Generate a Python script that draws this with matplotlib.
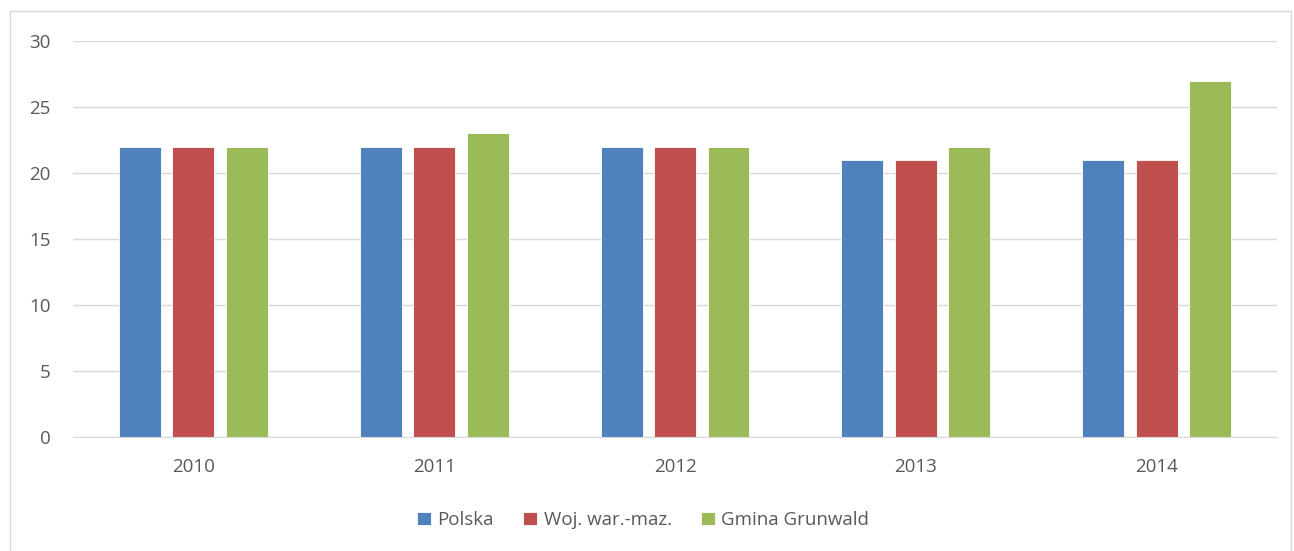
import numpy as np
import matplotlib.pyplot as plt
from matplotlib.patches import Rectangle

years = ["2010", "2011", "2012", "2013", "2014"]
polska = [22, 22, 22, 21, 21]
woj = [22, 22, 22, 21, 21]
gmina = [22, 23, 22, 22, 27]
series_names = ["Polska", "Woj. war.-maz.", "Gmina Grunwald"]
colors = ["#4F81BD", "#C0504D", "#9BBB59"]

plt.rcParams['font.family'] = ['Open Sans', 'DejaVu Sans']

fig = plt.figure(figsize=(12.94, 5.51), dpi=100)
ax = fig.add_axes([0.0564, 0.2069, 0.9305, 0.7187])

x = np.arange(len(years))
width = 0.174
step = 0.222
for i, (vals, name, c) in enumerate(zip([polska, woj, gmina], series_names, colors)):
    ax.bar(x + (i - 1) * step, vals, width, color=c, label=name,
           edgecolor='white', linewidth=0.6, zorder=3)

ax.set_xlim(-0.5, len(years) - 0.5)
ax.set_ylim(0, 30)
ax.set_yticks(range(0, 31, 5))
ax.set_xticks(x)
ax.set_xticklabels(years)
ax.grid(axis='y', color='#D9D9D9', linewidth=1, zorder=0)
for s in ['top', 'right', 'left']:
    ax.spines[s].set_visible(False)
ax.spines['bottom'].set_color('#D9D9D9')
ax.spines['bottom'].set_zorder(4)
ax.tick_params(axis='both', length=0, labelsize=13.5, labelcolor='#595959')
ax.tick_params(axis='y', pad=16)
ax.tick_params(axis='x', pad=15)

fig.legend(loc='center', bbox_to_anchor=(0.497, 0.056), ncol=3, frameon=False,
           fontsize=13.5, labelcolor='#595959', handlelength=0.75, handleheight=0.75,
           handletextpad=0.35, columnspacing=1.55)

fig.patches.append(Rectangle((10 / 1294, -0.01), 1281 / 1294, 1 - 11 / 551 + 0.01,
                             transform=fig.transFigure, fill=False,
                             edgecolor='#D9D9D9', linewidth=1))

fig.savefig("out.png", dpi=100, facecolor='white')
